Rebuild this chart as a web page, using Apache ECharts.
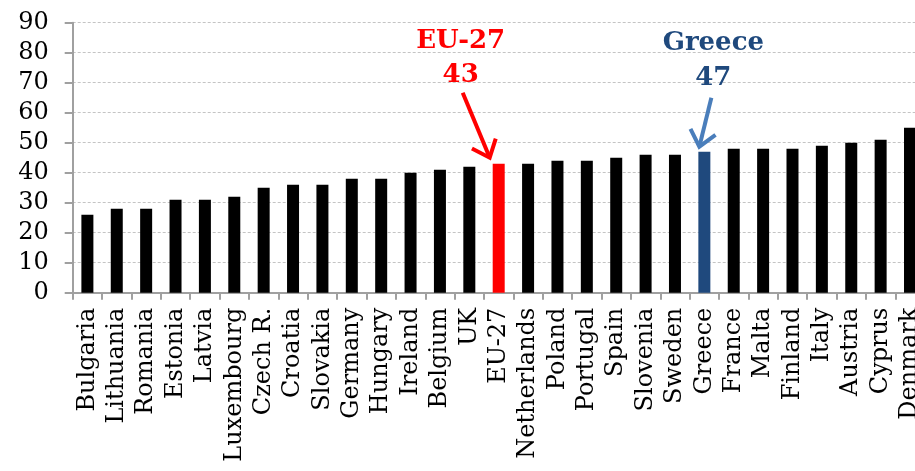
<!DOCTYPE html>
<html>
<head>
<meta charset="utf-8">
<script src="https://cdn.jsdelivr.net/npm/echarts@6/dist/echarts.min.js"></script>
<style>
html,body{margin:0;padding:0;background:#fff;}
#c{width:915px;height:471px;}
</style>
</head>
<body>
<div id="c"></div>
<script>
var categories = ['Bulgaria','Lithuania','Romania','Estonia','Latvia','Luxembourg','Czech R.','Croatia','Slovakia','Germany','Hungary','Ireland','Belgium','UK','EU-27','Netherlands','Poland','Portugal','Spain','Slovenia','Sweden','Greece','France','Malta','Finland','Italy','Austria','Cyprus','Denmark'];
var values = [26,28,28,31,31,32,35,36,36,38,38,40,41,42,43,43,44,44,45,46,46,47,48,48,48,49,50,51,55];
var yTicks = [0,10,20,30,40,50,60,70,80,90];
var euName = 'EU-27';
var grName = 'Greece';

var SERIF = '"DejaVu Serif", "Liberation Serif", serif';
var RED = '#ff0000', GR_BAR = '#1f497d', GR_TEXT = '#1f497d', GR_ARROW = '#4a7ebb';

var chart = echarts.init(document.getElementById('c'), null, {renderer:'canvas'});
var option = {
  animation:false,
  backgroundColor:'#ffffff',
  grid:{left:72.7, top:22.7, bottom:178.3, width:852, containLabel:false, outerBoundsMode:'none'},
  xAxis:{
    type:'category', data:categories,
    axisLine:{lineStyle:{color:'#a0a0a0', width:2}},
    axisTick:{show:true, alignWithLabel:false, length:7, lineStyle:{color:'#a0a0a0', width:2}},
    axisLabel:{rotate:90, interval:0, margin:15, color:'#000', fontFamily:SERIF, fontSize:24},
    splitLine:{show:false}
  },
  yAxis:{
    type:'value', min:yTicks[0], max:yTicks[yTicks.length-1], interval:10,
    axisLine:{show:true, lineStyle:{color:'#a0a0a0', width:2}},
    axisTick:{show:true, length:8, lineStyle:{color:'#a0a0a0', width:2}},
    axisLabel:{margin:24, color:'#000', fontFamily:SERIF, fontSize:24},
    splitLine:{show:true, lineStyle:{color:'#c4c4c4', width:1, type:[3,2]}}
  },
  series:[{
    type:'bar', data:values, barWidth:12,
    itemStyle:{color:function(p){ return p.name===euName?RED:(p.name===grName?GR_BAR:'#000'); }}
  }]
};
chart.setOption(option);

function px(name){
  var i = categories.indexOf(name);
  return chart.convertToPixel({xAxisIndex:0,yAxisIndex:0},[i, values[i]]);
}
function arrow(start, tip, color, armLen, width){
  var ang = Math.atan2(tip[1]-start[1], tip[0]-start[0]);
  var spread = 0.7;
  var a1 = [tip[0]-armLen*Math.cos(ang-spread), tip[1]-armLen*Math.sin(ang-spread)];
  var a2 = [tip[0]-armLen*Math.cos(ang+spread), tip[1]-armLen*Math.sin(ang+spread)];
  return [
    {type:'line', shape:{x1:start[0],y1:start[1],x2:tip[0]-1.5*Math.cos(ang),y2:tip[1]-1.5*Math.sin(ang)}, style:{stroke:color, lineWidth:width}},
    {type:'polyline', shape:{points:[a1, tip, a2]}, style:{stroke:color, lineWidth:width, fill:null, lineJoin:'miter'}}
  ];
}
var eu = px(euName), gr = px(grName);
var els = [];
els.push({type:'text', style:{text:euName, x:eu[0]-38, y:eu[1]-122, align:'center', verticalAlign:'middle', fill:RED, font:'bold 26px '+SERIF}});
els.push({type:'text', style:{text:String(values[categories.indexOf(euName)]), x:eu[0]-38, y:eu[1]-88, align:'center', verticalAlign:'middle', fill:RED, font:'bold 26px '+SERIF}});
els = els.concat(arrow([eu[0]-36, eu[1]-71],[eu[0]-9, eu[1]-6], RED, 20, 4));
els.push({type:'text', style:{text:grName, x:gr[0]+9, y:gr[1]-108, align:'center', verticalAlign:'middle', fill:GR_TEXT, font:'bold 26px '+SERIF}});
els.push({type:'text', style:{text:String(values[categories.indexOf(grName)]), x:gr[0]+9, y:gr[1]-73, align:'center', verticalAlign:'middle', fill:GR_TEXT, font:'bold 26px '+SERIF}});
els = els.concat(arrow([gr[0]+7, gr[1]-54],[gr[0]-5, gr[1]-5], GR_ARROW, 20, 4));
chart.setOption({graphic:{elements:els}});
</script>
</body>
</html>
